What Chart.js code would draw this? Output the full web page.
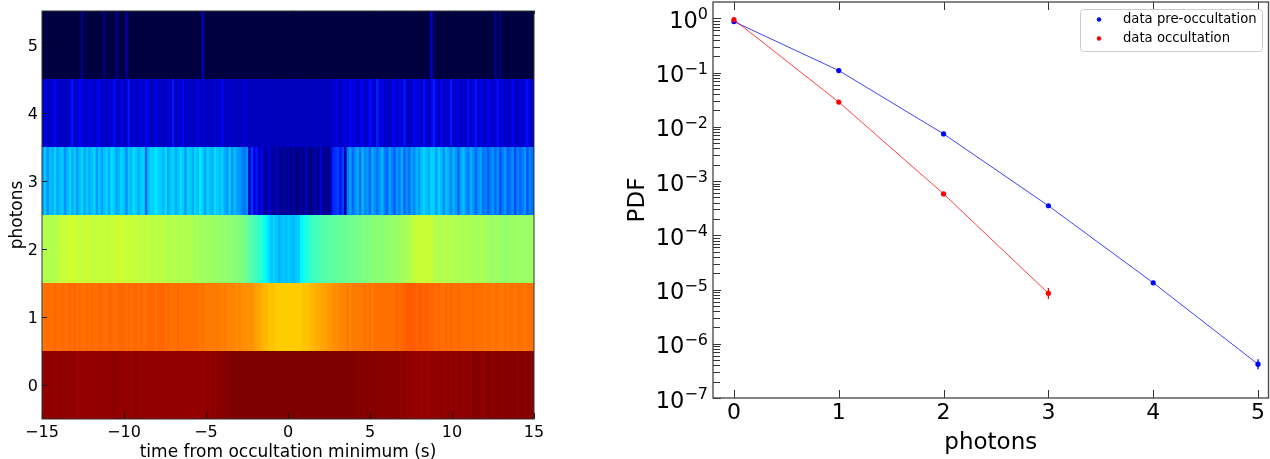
<!DOCTYPE html>
<html>
<head>
<meta charset="utf-8">
<title>Occultation photons</title>
<script src="https://cdn.jsdelivr.net/npm/chart.js@4/dist/chart.umd.min.js"></script>
<style>
  html, body { margin: 0; background: #fff; }
  canvas { position: absolute; top: 0; }
  #heat { left: 0; }
  #pdf { left: 600px; }
</style>
</head>
<body>
<canvas id="heat" width="580" height="459"></canvas>
<canvas id="pdf" width="670" height="459"></canvas>
<script>
// DATA - heatmap, one value per 0.15 s bin (colour level, 0-100)
const binStart = -15;
const binWidth = 0.15;
const rowLabels = [0, 1, 2, 3, 4, 5];
const xTickValues = [-15, -10, -5, 0, 5, 10, 15];

const row0 = [
  98,98,98,99,98,98,98,99,98,98,98,98,98,98,97,98,98,98,98,98,
  98,98,98,98,98,98,98,98,98,99,98,98,98,98,98,98,98,98,99,98,
  98,98,98,98,98,98,98,98,98,98,98,98,98,98,98,98,98,98,98,98,
  98,98,98,98,98,98,98,99,98,99,98,99,99,99,100,99,100,100,100,100,
  100,100,100,100,100,100,100,100,100,100,100,100,100,100,100,100,100,100,100,100,
  100,100,100,100,100,100,100,100,100,100,100,100,100,100,100,100,100,100,100,100,
  100,100,100,100,100,100,100,100,99,100,99,99,100,99,99,100,99,99,99,99,
  99,99,99,99,99,99,98,99,98,98,98,98,98,98,97,98,98,97,98,98,
  98,98,99,98,98,99,98,99,98,99,99,98,99,99,98,99,100,99,99,98,
  99,100,99,99,99,100,99,99,99,100,99,99,100,99,99,100,99,99,100,99
];
const row1 = [
  75,76,76,76,76,77,76,76,77,76,76,77,76,77,76,77,76,76,77,76,
  77,76,76,77,77,76,76,77,77,76,76,77,77,77,76,77,76,77,77,76,
  77,76,76,77,77,77,76,77,77,77,76,77,76,76,76,77,76,76,76,76,
  76,76,76,76,75,76,75,75,75,75,75,75,75,74,75,74,74,74,74,73,
  74,73,73,73,73,73,72,71,71,70,69,69,68,68,68,67,67,67,67,67,
  67,67,67,67,67,67,68,68,68,69,69,70,70,71,71,71,72,72,73,73,
  73,74,74,74,75,74,75,75,75,75,75,76,75,76,75,76,76,76,76,76,
  76,76,76,76,77,76,77,77,78,78,78,78,77,78,78,77,78,77,77,77,
  76,77,76,76,77,76,77,76,76,77,76,76,76,76,76,77,76,76,76,76,
  75,76,76,75,76,76,75,75,76,75,76,76,75,76,76,76,75,76,76,76
];
const row2 = [
  54,55,54,55,54,55,55,56,57,56,57,57,58,57,57,56,57,56,57,57,
  56,56,57,56,56,57,56,56,57,56,57,57,58,57,56,57,56,57,56,56,
  56,55,56,56,55,55,56,55,55,56,55,55,54,55,55,54,54,55,54,54,
  54,54,53,54,53,53,53,52,53,52,52,52,52,51,52,51,51,51,50,50,
  50,49,49,47,46,45,44,43,42,41,38,36,34,31,33,32,29,31,32,30,
  32,31,30,32,32,36,38,40,41,42,43,44,44,45,45,45,46,46,46,46,
  47,47,47,47,48,48,48,48,49,49,49,50,49,50,50,50,51,51,50,51,
  51,52,51,52,52,52,53,53,54,54,55,56,57,56,57,57,56,57,56,55,
  55,54,54,55,54,54,55,54,54,54,54,53,54,54,54,53,54,53,54,54,
  53,53,52,52,53,52,52,52,51,52,52,52,52,53,52,52,52,52,53,52
];
const row3 = [
  28,32,26,31,29,33,28,31,32,26,30,33,29,32,27,31,33,28,32,29,
  31,33,27,32,28,31,33,29,34,32,28,30,33,31,26,32,30,34,32,29,
  32,33,22,31,33,32,35,33,32,30,34,28,32,33,29,31,34,32,27,33,
  32,29,33,31,35,32,28,33,31,29,34,32,30,33,29,27,32,26,31,28,
  27,25,23,26,8,17,10,14,7,12,6,6,9,7,5,8,6,4,7,5,
  6,4,7,3,5,6,4,8,5,3,6,7,4,9,5,6,3,8,15,17,
  18,14,18,6,24,28,22,26,29,23,30,25,27,22,29,26,23,27,30,24,
  22,28,25,21,27,24,29,22,26,23,28,25,30,27,31,33,31,29,33,32,
  28,33,30,26,31,29,25,30,27,22,28,31,26,24,29,27,22,26,28,23,
  25,21,24,27,22,26,20,24,27,21,23,26,19,25,22,24,27,20,25,23
];
const row4 = [
  8,9,10,8,9,12,8,8,9,8,8,10,14,8,9,12,10,9,8,11,
  9,8,10,12,8,9,8,10,8,13,9,8,11,8,9,14,8,10,8,9,
  10,8,12,9,8,8,11,8,9,8,8,10,8,14,8,9,8,12,8,8,
  9,8,8,11,8,8,9,8,8,8,10,8,8,12,8,8,8,9,8,8,
  8,8,10,8,8,8,8,8,8,8,8,8,8,8,8,8,8,8,8,8,
  8,8,8,8,8,8,8,8,8,8,8,8,8,8,8,8,8,8,9,9,
  10,8,9,11,8,12,9,11,8,10,12,8,9,13,11,8,15,9,11,8,
  9,8,10,12,8,11,9,14,8,9,8,12,9,10,8,13,9,8,11,15,
  10,8,12,8,10,8,14,9,8,11,8,9,8,13,8,10,14,8,11,9,
  8,12,9,8,10,13,8,11,8,9,8,12,9,8,10,8,11,13,9,8
];
const row5 = [
  0,0,0,0,0,0,0,0,0,0,0,0,0,0,0,0,5,0,0,0,
  0,0,0,0,0,4,0,0,0,0,5,0,0,0,6,0,0,0,0,0,
  0,0,0,0,0,0,0,0,0,0,0,0,0,0,0,0,0,0,0,0,
  0,0,0,0,0,8,0,0,0,0,0,0,0,0,0,0,0,0,0,0,
  0,0,0,0,0,0,0,0,0,0,0,0,0,0,0,0,0,0,0,0,
  0,0,0,0,0,0,0,0,0,0,0,0,0,0,0,0,0,0,0,0,
  0,0,0,0,0,0,0,0,0,0,0,0,0,0,0,0,0,0,0,0,
  0,0,0,0,0,0,0,0,0,0,0,0,0,0,0,0,0,0,10,0,
  0,0,0,0,0,0,0,0,0,0,0,0,0,0,0,0,0,0,0,0,
  0,0,0,0,5,0,4,0,0,0,0,0,0,0,0,0,0,0,0,0
];

// DATA - photon PDF
const photonsPre = [0, 1, 2, 3, 4, 5];
const pdfPre = [0.87, 0.109, 0.0074, 3.5e-4, 1.33e-5, 4.2e-7];
const errPreLow = [0.87, 0.109, 0.0074, 3.5e-4, 1.33e-5, 3.4e-7];
const errPreHigh = [0.87, 0.109, 0.0074, 3.5e-4, 1.33e-5, 5.2e-7];

const photonsOcc = [0, 1, 2, 3];
const pdfOcc = [0.945, 0.0286, 5.8e-4, 8.5e-6];
const errOccLow = [0.945, 0.0286, 5.8e-4, 6.7e-6];
const errOccHigh = [0.945, 0.0286, 5.8e-4, 1.07e-5];

const decades = [-7, -6, -5, -4, -3, -2, -1, 0];
const minorSteps = [2, 3, 4, 5, 6, 7, 8, 9];

const FONT = '"DejaVu Sans", sans-serif';

// colour stops: jet, with a darker navy for the lowest level
const colourStops = [
  [0, 0, 0, 64], [12, 0, 0, 255], [37, 0, 255, 255],
  [62, 255, 255, 0], [87, 255, 0, 0], [100, 127, 0, 0],
];

function colourFor(level) {
  let i = 0;
  while (i < colourStops.length - 2 && level > colourStops[i + 1][0]) i++;
  const a = colourStops[i];
  const b = colourStops[i + 1];
  const t = (level - a[0]) / (b[0] - a[0]);
  const mix = (k) => Math.round(a[k] + (b[k] - a[k]) * t);
  return `rgb(${mix(1)},${mix(2)},${mix(3)})`;
}

function rowDataset(levels, row) {
  return {
    label: `photons ${row}`,
    data: levels.map((_, i) => ({
      x: binStart + binWidth * (i + 0.5),
      y: [row - 0.5, row + 0.5],
    })),
    backgroundColor: levels.map(colourFor),
    borderWidth: 0,
    inflateAmount: 0,
    barThickness: 3.4,
    grouped: false,
  };
}

// fixed axis sizes, so the plot area does not move with the labels
function setWidth(w) {
  return (scale) => {
    scale.width = w;
    scale.paddingTop = 0;
    scale.paddingBottom = 0;
  };
}
function setHeight(h) {
  return (scale) => {
    scale.height = h;
    scale.paddingLeft = 0;
    scale.paddingRight = 0;
  };
}

// frame and ticks pointing inward, as in the original figure
const frameTicks = {
  id: "frameTicks",
  afterDraw(chart, args, opts) {
    const ctx = chart.ctx;
    const { left, right, top, bottom } = chart.chartArea;
    const line = (x1, y1, x2, y2) => {
      ctx.beginPath();
      ctx.moveTo(x1, y1);
      ctx.lineTo(x2, y2);
      ctx.stroke();
    };
    ctx.save();
    ctx.strokeStyle = opts.tickColor;
    ctx.lineWidth = 1;
    chart.scales.x.ticks.forEach((t) => {
      const x = Math.round(chart.scales.x.getPixelForValue(t.value)) + 0.5;
      line(x, bottom, x, bottom - opts.bottomLen);
      line(x, top, x, top + opts.topLen);
    });
    chart.scales.y.ticks.forEach((t) => {
      const y = Math.round(chart.scales.y.getPixelForValue(t.value)) + 0.5;
      line(left, y, left + (t.major === false ? opts.minorLen : opts.leftLen), y);
    });
    ctx.strokeStyle = opts.frameColor;
    ctx.lineWidth = opts.frameWidth;
    ctx.strokeRect(left, top, right - left, bottom - top);
    ctx.restore();
  },
};

// vertical error bars on the PDF points
const errorBars = {
  id: "errorBars",
  afterDatasetsDraw(chart) {
    const ctx = chart.ctx;
    const { x, y } = chart.scales;
    const draw = (xs, low, high, colour) => {
      ctx.strokeStyle = colour;
      ctx.lineWidth = 1.3;
      xs.forEach((v, i) => {
        ctx.beginPath();
        ctx.moveTo(x.getPixelForValue(v), y.getPixelForValue(low[i]));
        ctx.lineTo(x.getPixelForValue(v), y.getPixelForValue(high[i]));
        ctx.stroke();
      });
    };
    ctx.save();
    draw(photonsPre, errPreLow, errPreHigh, "#0000ff");
    draw(photonsOcc, errOccLow, errOccHigh, "#ff0000");
    ctx.restore();
  },
};

// 10^k labels with a real raised exponent
const decadeLabels = {
  id: "decadeLabels",
  afterDraw(chart) {
    const ctx = chart.ctx;
    const y = chart.scales.y;
    const right = y.right - 5;
    ctx.save();
    ctx.fillStyle = "#000";
    ctx.textAlign = "left";
    ctx.textBaseline = "alphabetic";
    y.ticks.forEach((t) => {
      if (!t.major) return;
      const py = y.getPixelForValue(t.value);
      const exp = String(t.exp).replace("-", "\u2212");
      ctx.font = `16px ${FONT}`;
      const expWidth = ctx.measureText(exp).width;
      ctx.fillText(exp, right - expWidth, py + 1);
      ctx.font = `22.5px ${FONT}`;
      const baseWidth = ctx.measureText("10").width;
      ctx.fillText("10", right - expWidth - baseWidth, py + 9.5);
    });
    ctx.restore();
  },
};

// legend box in the upper right corner
const legendBox = {
  id: "legendBox",
  afterDraw(chart) {
    const ctx = chart.ctx;
    ctx.save();
    ctx.beginPath();
    ctx.roundRect(480.5, 9.5, 182, 42, 3);
    ctx.fillStyle = "rgba(255,255,255,0.8)";
    ctx.fill();
    ctx.strokeStyle = "#cccccc";
    ctx.stroke();
    ctx.textBaseline = "middle";
    ctx.font = `13.2px ${FONT}`;
    const rows = [19.5, 38.5];
    chart.data.datasets.forEach((d, i) => {
      ctx.fillStyle = d.pointBackgroundColor;
      ctx.beginPath();
      ctx.arc(499, rows[i], 2.2, 0, Math.PI * 2);
      ctx.fill();
      ctx.fillStyle = "#000";
      ctx.fillText(d.label, 523, rows[i]);
    });
    ctx.restore();
  },
};

new Chart(document.getElementById("heat"), {
  type: "bar",
  data: {
    datasets: [row0, row1, row2, row3, row4, row5].map(rowDataset),
  },
  options: {
    responsive: false,
    animation: false,
    layout: { autoPadding: false, padding: { top: 11, right: 46 } },
    plugins: {
      legend: { display: false },
      tooltip: { enabled: false },
      frameTicks: {
        tickColor: "#111", frameColor: "#333", frameWidth: 1,
        bottomLen: 6, topLen: 3, leftLen: 5, minorLen: 5,
      },
    },
    scales: {
      x: {
        type: "linear",
        min: -15,
        max: 15,
        offset: false,
        afterFit: setHeight(40),
        afterBuildTicks: (s) => { s.ticks = xTickValues.map((v) => ({ value: v })); },
        grid: { display: false, drawTicks: false },
        border: { display: false },
        title: {
          display: true,
          text: "time from occultation minimum (s)",
          color: "#000",
          font: { family: FONT, size: 17 },
          padding: { top: 0, bottom: -4 },
        },
        ticks: {
          color: "#000",
          font: { family: FONT, size: 16 },
          padding: 4,
          maxRotation: 0,
          autoSkip: false,
          callback: (v) => String(v).replace("-", "\u2212"),
        },
      },
      y: {
        type: "linear",
        min: -0.5,
        max: 5.5,
        afterFit: setWidth(42),
        afterBuildTicks: (s) => { s.ticks = rowLabels.map((v) => ({ value: v })); },
        grid: { display: false, drawTicks: false },
        border: { display: false },
        title: {
          display: true,
          text: "photons",
          color: "#000",
          font: { family: FONT, size: 17 },
          padding: { top: 7, bottom: 0 },
        },
        ticks: {
          color: "#000",
          font: { family: FONT, size: 16 },
          padding: 4,
          labelOffset: 1.5,
          autoSkip: false,
        },
      },
    },
  },
  plugins: [frameTicks],
});

function logTicks() {
  const out = [];
  decades.forEach((d) => {
    out.push({ value: Math.pow(10, d), major: true, exp: d });
    if (d === 0) return;
    minorSteps.forEach((m) => out.push({ value: m * Math.pow(10, d), major: false }));
  });
  return out;
}

new Chart(document.getElementById("pdf"), {
  type: "line",
  data: {
    datasets: [
      {
        label: "data pre-occultation",
        data: photonsPre.map((x, i) => ({ x, y: pdfPre[i] })),
        borderColor: "rgba(0,0,255,0.75)",
        borderWidth: 1,
        pointBackgroundColor: "#0000ff",
        pointBorderWidth: 0,
        pointRadius: 2.6,
        tension: 0,
        order: 2,
      },
      {
        label: "data occultation",
        data: photonsOcc.map((x, i) => ({ x, y: pdfOcc[i] })),
        borderColor: "rgba(255,0,0,0.75)",
        borderWidth: 1,
        pointBackgroundColor: "#ff0000",
        pointBorderWidth: 0,
        pointRadius: 2.6,
        tension: 0,
        order: 1,
      },
    ],
  },
  options: {
    responsive: false,
    animation: false,
    clip: false,
    layout: { autoPadding: false, padding: { top: 2, right: 1.5 } },
    plugins: {
      legend: { display: false },
      tooltip: { enabled: false },
      frameTicks: {
        tickColor: "#333", frameColor: "#444", frameWidth: 1.3,
        bottomLen: 8, topLen: 8, leftLen: 8, minorLen: 7,
      },
    },
    scales: {
      x: {
        type: "linear",
        min: -0.2,
        max: 5.1,
        afterFit: setHeight(61),
        afterBuildTicks: (s) => { s.ticks = photonsPre.map((v) => ({ value: v })); },
        grid: { display: false, drawTicks: false },
        border: { display: false },
        title: {
          display: true,
          text: "photons",
          color: "#000",
          font: { family: FONT, size: 23 },
          padding: { top: 0, bottom: 2 },
        },
        ticks: {
          color: "#000",
          font: { family: FONT, size: 22 },
          padding: 2,
          maxRotation: 0,
          autoSkip: false,
        },
      },
      y: {
        type: "logarithmic",
        min: 1e-7,
        max: 2,
        afterFit: setWidth(113),
        afterBuildTicks: (s) => { s.ticks = logTicks(); },
        grid: { display: false, drawTicks: false },
        border: { display: false },
        title: {
          display: true,
          text: "PDF",
          color: "#000",
          font: { family: FONT, size: 23 },
          padding: { top: 24, bottom: 0 },
        },
        ticks: {
          display: true,
          autoSkip: false,
          callback: () => "",
        },
      },
    },
  },
  plugins: [errorBars, frameTicks, decadeLabels, legendBox],
});
</script>
</body>
</html>
